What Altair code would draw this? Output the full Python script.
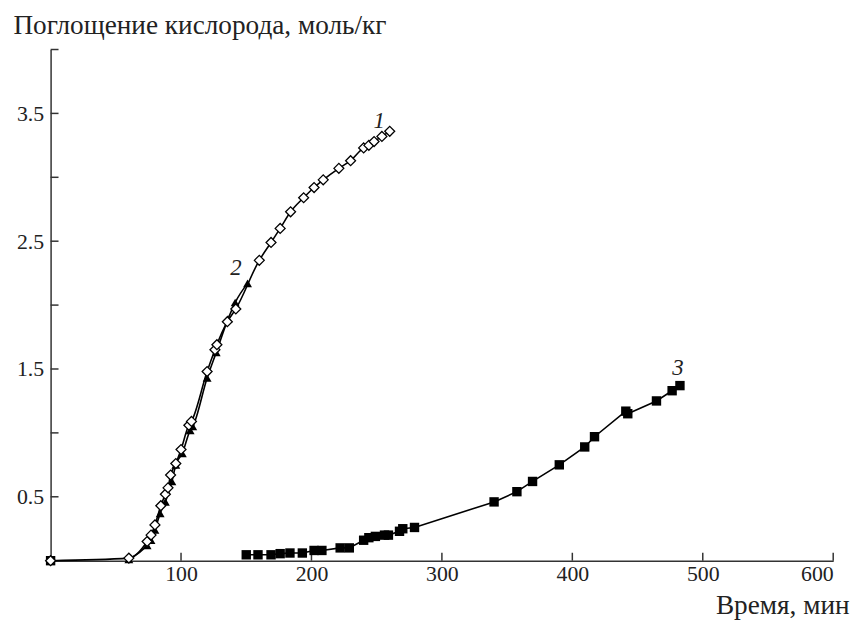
import altair as alt
import pandas as pd

# Series 1 (open diamonds)
s1_x = [0, 60, 74, 77, 80, 84.5, 88, 90, 92, 96, 100, 106, 108, 120, 126, 127.5,
        135.5, 142, 160, 169, 176, 184, 194, 202, 209, 221, 230, 240, 244, 248, 254, 260]
s1_y = [0, 0.02, 0.15, 0.2, 0.28, 0.43, 0.52, 0.57, 0.67, 0.76, 0.87, 1.06, 1.09, 1.48, 1.65, 1.69,
        1.87, 1.97, 2.35, 2.49, 2.60, 2.73, 2.84, 2.92, 2.98, 3.07, 3.13, 3.23, 3.25, 3.28, 3.32, 3.36]

# Series 2 (filled triangles)
s2_x = [60, 74, 77, 80, 84, 88, 93, 96, 101, 107, 109, 120, 127, 136, 141.5, 151]
s2_y = [0.01, 0.12, 0.16, 0.24, 0.37, 0.46, 0.62, 0.75, 0.84, 1.02, 1.05, 1.43, 1.63, 1.89, 2.02, 2.17]

# Series 3 (filled squares)
s3_x = [150, 159, 169, 176, 183.5, 193, 202, 208, 222, 229, 240, 244, 249, 256, 259, 267.5, 270, 279,
        340, 357.5, 369.5, 390, 409.5, 417, 441, 442.5, 464.5, 476.5, 482.5]
s3_y = [0.046, 0.046, 0.046, 0.055, 0.06, 0.06, 0.08, 0.08, 0.10, 0.10, 0.16, 0.18, 0.19, 0.20, 0.20,
        0.23, 0.25, 0.26, 0.46, 0.54, 0.62, 0.75, 0.89, 0.97, 1.17, 1.15, 1.25, 1.33, 1.37]
origin_x = [0]
origin_y = [0]

# Curve labels
lab_text = ["1", "2", "3"]
lab_x = [252, 142, 481]
lab_y = [3.44, 2.29, 1.51]

x_ticks = [100, 200, 300, 400, 500, 600]
y_tick_labels = [0.5, 1.5, 2.5, 3.5]
y_ticks = [0.5, 1.0, 1.5, 2.0, 2.5, 3.0, 3.5, 4.0]

FONT = "'Liberation Serif', 'Times New Roman', 'DejaVu Serif', serif"
TFS = 27.5
W, H = 790, 516

df1 = pd.DataFrame({"t": s1_x, "o": s1_y})
df2 = pd.DataFrame({"t": s2_x, "o": s2_y})
df3 = pd.DataFrame({"t": s3_x, "o": s3_y})
dfo = pd.DataFrame({"t": origin_x, "o": origin_y})
dfl = pd.DataFrame({"t": lab_x, "o": lab_y, "txt": lab_text})
dfxt = pd.DataFrame({"t": x_ticks})
dfyt = pd.DataFrame({"o": y_ticks})

xs = alt.Scale(domain=[0, 600], nice=False, zero=False)
ys = alt.Scale(domain=[0, 4], nice=False, zero=False)

x_axis = alt.Axis(values=x_ticks, title="Время, мин", ticks=False, tickSize=0, grid=False,
                  labelFont=FONT, labelFontSize=22, labelColor="#222", labelPadding=3,
                  domainColor="#333", domainWidth=1.5,
                  titleFont=FONT, titleFontSize=TFS, titleFontWeight="normal", titleColor="#222",
                  titleAlign="right", titleBaseline="alphabetic", titleX=806, titleY=53)
y_axis = alt.Axis(values=y_tick_labels, title="Поглощение кислорода, моль/кг", ticks=False, tickSize=0,
                  grid=False, format=".1f",
                  labelFont=FONT, labelFontSize=22, labelColor="#222", labelPadding=7,
                  domainColor="#333", domainWidth=1.5,
                  titleFont=FONT, titleFontSize=TFS, titleFontWeight="normal", titleColor="#222",
                  titleAngle=0, titleAlign="left", titleBaseline="alphabetic", titleX=-38, titleY=-16)

X = alt.X("t:Q", scale=xs, axis=x_axis)
Y = alt.Y("o:Q", scale=ys, axis=y_axis)

xt = alt.Chart(dfxt).mark_rule(color="#333", strokeWidth=1.5).encode(
    x=X, y=alt.value(H), y2=alt.value(H - 8))
yt = alt.Chart(dfyt).mark_rule(color="#333", strokeWidth=1.5).encode(
    y=Y, x=alt.value(0), x2=alt.value(8))

line_kw = dict(color="black", strokeWidth=1.6)
l2 = alt.Chart(df2).mark_line(interpolate="monotone", **line_kw).encode(x=X, y=Y)
l1 = alt.Chart(df1).mark_line(interpolate="monotone", **line_kw).encode(x=X, y=Y)
l3 = alt.Chart(df3).mark_line(interpolate="linear", **line_kw).encode(x=X, y=Y)

p2 = alt.Chart(df2).mark_point(shape="triangle-up", filled=True, color="black", size=80, opacity=1).encode(x=X, y=Y)
p3 = alt.Chart(df3).mark_point(shape="square", filled=True, color="black", size=90, opacity=1).encode(x=X, y=Y)
po = alt.Chart(dfo).mark_point(shape="square", filled=True, color="black", size=90, opacity=1).encode(x=X, y=Y)
p1 = alt.Chart(df1).mark_point(shape="diamond", filled=True, fill="white", stroke="black", strokeWidth=1.3,
                               size=100, opacity=1).encode(x=X, y=Y)

labels = alt.Chart(dfl).mark_text(font=FONT, fontSize=23, fontStyle="italic", color="#222",
                                  baseline="middle", align="center").encode(x=X, y=Y, text="txt:N")

chart = alt.layer(xt, yt, l2, l1, l3, p2, p3, po, p1, labels).properties(
    width=W, height=H,
    background="white",
    autosize=alt.AutoSizeParams(type="none"),
    padding={"left": 43, "top": 39, "right": 22, "bottom": 59},
).configure_view(stroke="transparent", strokeWidth=0)

chart.save("out.html", embed_options={"renderer": "svg", "actions": False})
